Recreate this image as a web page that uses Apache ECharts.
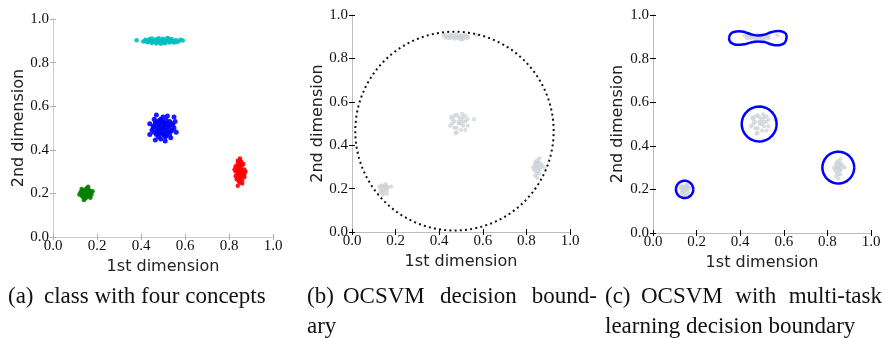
<!DOCTYPE html>
<html><head><meta charset="utf-8">
<script src="https://cdn.jsdelivr.net/npm/echarts@6/dist/echarts.min.js"></script>
<style>html,body{margin:0;padding:0;background:#fff}#c{width:884px;height:338px}</style>
</head><body><div id="c"></div>
<script>
// ---- data ----
var tickLabels = ['0.0','0.2','0.4','0.6','0.8','1.0'];
var xName = '1st dimension', yName = '2nd dimension';
var captionLabels = ['(a)', '(b)', '(c)'];
var captionLines = [
  ['class with four concepts'],
  ['OCSVM decision bound-', 'ary'],
  ['OCSVM with multi-task', 'learning decision boundary']
];
// panel (a) concept clusters
var cyanPts = [[0.38,0.902],[0.41,0.897],[0.42,0.905],[0.43,0.893],[0.43,0.901],[0.44,0.908],[0.44,0.896],[0.45,0.890],[0.45,0.900],[0.45,0.910],[0.46,0.895],[0.46,0.904],[0.47,0.888],[0.47,0.899],[0.47,0.907],[0.48,0.893],[0.48,0.902],[0.48,0.912],[0.49,0.886],[0.49,0.897],[0.49,0.905],[0.50,0.891],[0.50,0.900],[0.50,0.909],[0.51,0.894],[0.51,0.903],[0.51,0.889],[0.52,0.898],[0.52,0.906],[0.52,0.913],[0.53,0.892],[0.53,0.901],[0.54,0.896],[0.54,0.907],[0.55,0.900],[0.55,0.892],[0.56,0.903],[0.57,0.897],[0.58,0.905],[0.59,0.901],[0.44,0.902],[0.46,0.899],[0.50,0.896],[0.53,0.908],[0.48,0.897],[0.42,0.898],[0.56,0.895]];
var bluePts = [[0.50,0.50],[0.48,0.51],[0.52,0.49],[0.49,0.48],[0.51,0.52],[0.47,0.50],[0.53,0.51],[0.50,0.53],[0.50,0.47],[0.48,0.49],[0.52,0.52],[0.46,0.51],[0.54,0.49],[0.49,0.54],[0.51,0.46],[0.47,0.47],[0.53,0.53],[0.47,0.53],[0.53,0.47],[0.45,0.49],[0.55,0.50],[0.50,0.55],[0.49,0.45],[0.46,0.48],[0.54,0.52],[0.48,0.52],[0.52,0.48],[0.49,0.50],[0.51,0.50],[0.50,0.49],[0.50,0.51],[0.46,0.54],[0.55,0.55],[0.44,0.52],[0.56,0.48],[0.48,0.46],[0.52,0.555],[0.465,0.445],[0.535,0.455],[0.455,0.505],[0.545,0.515],[0.485,0.535],[0.515,0.465],[0.475,0.485],[0.525,0.505],[0.495,0.525],[0.505,0.475],[0.465,0.525],[0.535,0.485],[0.485,0.475],[0.515,0.535],[0.44,0.47],[0.555,0.53],[0.47,0.56],[0.51,0.44]];
var redPts = [[0.85,0.30],[0.84,0.31],[0.86,0.29],[0.85,0.32],[0.85,0.28],[0.84,0.27],[0.86,0.33],[0.84,0.34],[0.86,0.26],[0.85,0.35],[0.85,0.25],[0.83,0.30],[0.87,0.31],[0.83,0.28],[0.87,0.29],[0.845,0.295],[0.855,0.305],[0.845,0.325],[0.855,0.275],[0.835,0.315],[0.865,0.285],[0.84,0.29],[0.86,0.31],[0.85,0.31],[0.85,0.29],[0.84,0.32],[0.86,0.28],[0.855,0.345],[0.845,0.255],[0.84,0.35],[0.86,0.245],[0.83,0.325],[0.87,0.275],[0.835,0.265],[0.865,0.335],[0.85,0.36],[0.84,0.235],[0.875,0.30],[0.825,0.31],[0.85,0.27],[0.85,0.33],[0.86,0.30],[0.84,0.30]];
var greenPts = [[0.15,0.20],[0.14,0.21],[0.16,0.19],[0.14,0.19],[0.16,0.21],[0.13,0.20],[0.17,0.20],[0.15,0.22],[0.15,0.18],[0.135,0.185],[0.165,0.215],[0.135,0.215],[0.165,0.185],[0.145,0.205],[0.155,0.195],[0.125,0.205],[0.175,0.195],[0.145,0.175],[0.155,0.225],[0.13,0.19],[0.17,0.21],[0.14,0.20],[0.16,0.20],[0.15,0.21],[0.15,0.19],[0.12,0.195],[0.18,0.21],[0.14,0.17],[0.16,0.23],[0.13,0.22],[0.17,0.18],[0.145,0.195],[0.155,0.205]];
// training samples shown grey in (b) and (c)
var grayPts = [
 [0.42,0.905],[0.43,0.895],[0.44,0.902],[0.45,0.893],[0.45,0.908],[0.46,0.899],[0.47,0.890],[0.47,0.905],[0.48,0.896],[0.48,0.910],[0.49,0.901],[0.49,0.892],[0.50,0.906],[0.50,0.897],[0.51,0.889],[0.51,0.903],[0.52,0.898],[0.52,0.909],[0.53,0.901],[0.44,0.894],[0.46,0.907],[0.50,0.886],[0.53,0.893],[0.43,0.909],[0.57,0.907],
 [0.49,0.50],[0.47,0.51],[0.51,0.49],[0.48,0.48],[0.50,0.52],[0.46,0.50],[0.52,0.51],[0.49,0.53],[0.50,0.47],[0.47,0.48],[0.51,0.53],[0.46,0.52],[0.53,0.49],[0.48,0.54],[0.52,0.47],[0.45,0.49],[0.53,0.52],[0.48,0.46],[0.50,0.50],[0.49,0.51],[0.51,0.51],[0.47,0.535],[0.56,0.52],[0.475,0.455],[0.455,0.53],[0.505,0.545],[0.52,0.535],
 [0.85,0.30],[0.84,0.31],[0.86,0.29],[0.84,0.28],[0.86,0.32],[0.85,0.33],[0.85,0.27],[0.84,0.26],[0.86,0.34],[0.83,0.30],[0.87,0.31],[0.845,0.295],[0.855,0.315],[0.845,0.325],[0.855,0.285],[0.84,0.32],[0.86,0.27],[0.85,0.25],[0.88,0.30],[0.835,0.29],[0.865,0.30],[0.85,0.31],
 [0.15,0.20],[0.14,0.21],[0.16,0.19],[0.14,0.19],[0.16,0.21],[0.13,0.20],[0.155,0.22],[0.145,0.18],[0.135,0.215],[0.165,0.205],[0.14,0.17],[0.15,0.215],[0.13,0.185],[0.16,0.175],[0.18,0.21],[0.145,0.195],[0.155,0.205],[0.125,0.21]
];
// decision boundaries: ellipse [cx, cy, rx, ry]
var ocsvmBoundary = [0.47, 0.465, 0.455, 0.458];
var mtlCircles = [[0.145,0.20,0.040,0.040],[0.487,0.50,0.080,0.080],[0.85,0.30,0.073,0.073]];
var mtlPeanut = [[0.349,0.895],[0.355,0.912],[0.370,0.922],[0.395,0.926],[0.425,0.920],[0.455,0.910],[0.485,0.906],[0.515,0.911],[0.545,0.922],[0.575,0.927],[0.600,0.921],[0.613,0.905],[0.610,0.884],[0.595,0.866],[0.570,0.861],[0.540,0.866],[0.510,0.876],[0.480,0.878],[0.450,0.874],[0.420,0.866],[0.390,0.863],[0.365,0.869],[0.352,0.880],[0.349,0.895]];

// ---- chart ----
function ring(e){var p=[];for(var i=0;i<=180;i++){var t=i/180*2*Math.PI;p.push([e[0]+e[2]*Math.cos(t),e[1]+e[3]*Math.sin(t)]);}return p;}
var grids=[{left:53,top:19,width:220,height:218},{left:352,top:15,width:218,height:217},{left:653,top:15,width:218,height:218}];
var frameCol=['#cccccc','#bdbdbd','#bdbdbd'], tickCol=['#b0b0b0','#000','#000'];
var xNameGap=[15,16,17], yNameGap=[25,26,27];
var serif='Liberation Serif', sans='DejaVu Sans';
var xAxes=[], yAxes=[];
grids.forEach(function(g,i){
  var base={min:0,max:1,interval:0.2,gridIndex:i,splitLine:{show:false},
    axisLine:{show:true,lineStyle:{color:frameCol[i],width:1}},
    axisTick:{show:true,inside:true,length:3,lineStyle:{color:tickCol[i],width:1}}};
  xAxes.push(Object.assign({},base,{type:'value',position:'bottom',name:xName,nameLocation:'middle',nameGap:xNameGap[i],
    nameTextStyle:{fontFamily:sans,fontSize:16,color:'#222'},
    axisLabel:{fontFamily:serif,fontSize:15,color:'#111',margin:2,formatter:function(v){return tickLabels[Math.round(v*5)];}}}));
  xAxes.push(Object.assign({},base,{type:'value',position:'top',axisLabel:{show:false}}));
  yAxes.push(Object.assign({},base,{type:'value',position:'left',name:yName,nameLocation:'middle',nameGap:yNameGap[i],
    nameTextStyle:{fontFamily:sans,fontSize:16,color:'#222'},
    axisLabel:{fontFamily:serif,fontSize:15,color:'#111',margin:4,formatter:function(v){return tickLabels[Math.round(v*5)];}}}));
  yAxes.push(Object.assign({},base,{type:'value',position:'right',axisLabel:{show:false}}));
});
function sc(data,col,ax,size){return {type:'scatter',xAxisIndex:ax,yAxisIndex:ax,data:data,symbolSize:size,silent:true,
  itemStyle:{color:col,opacity:0.9},z:3};}
function grayS(ax){return {type:'scatter',xAxisIndex:ax,yAxisIndex:ax,data:grayPts,symbolSize:3.5,silent:true,
  itemStyle:{color:'#d4d9dd',borderColor:'#b9c1c7',borderWidth:0.4},z:2};}
function ln(data,ax,style,smooth){return {type:'line',xAxisIndex:ax,yAxisIndex:ax,data:data,showSymbol:false,symbol:'none',silent:true,
  smooth:smooth||false,lineStyle:style,z:4};}
var series=[
  sc(cyanPts,'#00bfbf',0,4.5), sc(bluePts,'#0000ff',0,5), sc(redPts,'#ff0000',0,4.5), sc(greenPts,'#008000',0,4.5),
  grayS(2), ln(ring(ocsvmBoundary),2,{color:'#111',width:2,type:[2,3.2],cap:'butt'}),
  grayS(4)
];
mtlCircles.forEach(function(c){series.push(ln(ring(c),4,{color:'#0000ff',width:2.5}));});
series.push(ln(mtlPeanut,4,{color:'#0000ff',width:2.5},0.5));

// caption layout (justified first lines, continuation at left margin)
var capLabelX=[8,307,605], capGap=36, capRight=[272,597,882], capY=[297,327];
var capFont='23px "Liberation Serif", serif';
var mctx=document.createElement('canvas').getContext('2d'); mctx.font=capFont;
var graphic=[];
function txt(t,x,y){graphic.push({type:'text',x:x,y:y,style:{text:t,font:capFont,fill:'#111',textVerticalAlign:'middle'}});}
captionLabels.forEach(function(lab,i){
  txt(lab,capLabelX[i],capY[0]);
  var lines=captionLines[i];
  lines.forEach(function(t,j){
    var x0 = j===0 ? capLabelX[i]+capGap : capLabelX[i];
    if(j<lines.length-1){
      var w=t.split(' '), tot=0; w.forEach(function(s){tot+=mctx.measureText(s).width;});
      var gap=Math.max(mctx.measureText(' ').width,(capRight[i]-x0-tot)/(w.length-1)), x=x0;
      w.forEach(function(s){txt(s,x,capY[j]); x+=mctx.measureText(s).width+gap;});
    } else txt(t,x0,capY[j]);
  });
});

var chart=echarts.init(document.getElementById('c'),null,{renderer:'canvas'});
chart.setOption({animation:false,grid:grids,xAxis:xAxes,yAxis:yAxes,series:series,graphic:graphic});
</script></body></html>
